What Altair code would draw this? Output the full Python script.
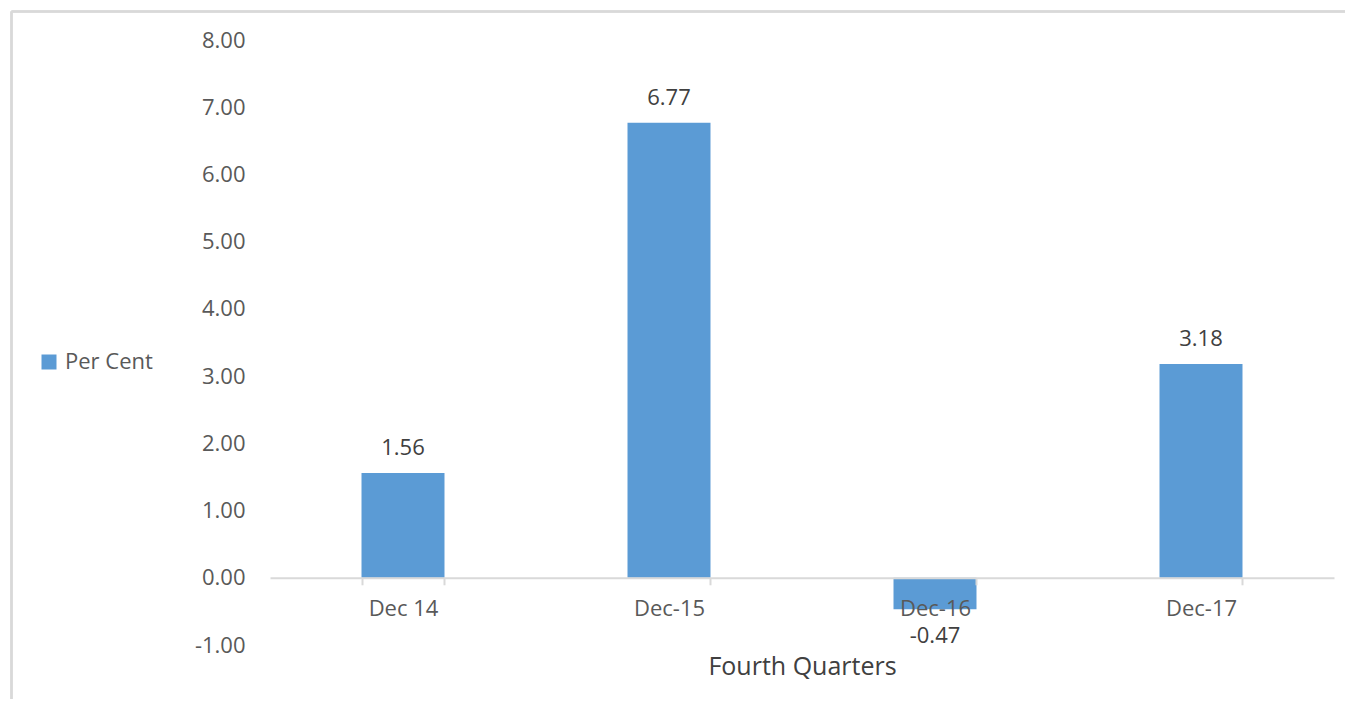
import altair as alt
import pandas as pd

categories = ["Dec 14", "Dec-15", "Dec-16", "Dec-17"]
values = [1.56, 6.77, -0.47, 3.18]
series_name = ["Per Cent"] * 4
y_ticks = [-1, 0, 1, 2, 3, 4, 5, 6, 7, 8]

df = pd.DataFrame({"quarter": categories, "value": values, "series": series_name})

FONT = "Open Sans"
BAR = "#5B9BD5"
GRAY = "#d9d9d9"

W, H = 1064, 605

x_enc = alt.X(
    "quarter:N",
    sort=categories,
    scale=alt.Scale(paddingInner=0.688, paddingOuter=0.344),
    axis=alt.Axis(
        title="Fourth Quarters",
        titleFont=FONT, titleFontSize=25, titleFontWeight="normal", titleColor="#404040",
        titleY=97, titleBaseline="alphabetic",
        labelFont=FONT, labelFontSize=22, labelColor="#595959", labelAngle=0,
        labelPadding=14,
        domainColor=GRAY, domainWidth=2,
        tickColor=GRAY, tickWidth=2, tickSize=7, tickBand="extent",
        offset=-67.2, grid=False, zindex=1,
    ),
)
y_enc = alt.Y(
    "value:Q",
    scale=alt.Scale(domain=[-1, 8], nice=False),
    axis=alt.Axis(
        title=None, values=y_ticks,
        labelExpr="replace(format(datum.value, '.2f'), '\u2212', '-')",
        labelFont=FONT, labelFontSize=22, labelColor="#595959",
        labelPadding=25, ticks=False, tickSize=0, domain=False, grid=False,
    ),
)

bars = alt.Chart(df).mark_bar(color=BAR).encode(
    x=x_enc,
    y=y_enc,
    color=alt.Color(
        "series:N",
        scale=alt.Scale(range=[BAR]),
        legend=alt.Legend(
            title=None, orient="none", legendX=-232, legendY=311, padding=0,
            symbolType="square", symbolSize=225, symbolStrokeWidth=0,
            labelFont=FONT, labelFontSize=22, labelColor="#595959", labelOffset=5,
        ),
    ),
)

base_text = alt.Chart(df).transform_calculate(
    label="replace(format(datum.value, '.2f'), '\u2212', '-')"
)

pos_labels = base_text.transform_filter("datum.value >= 0").mark_text(
    font=FONT, fontSize=22, color="#404040", dy=-25, baseline="middle"
).encode(
    x=alt.X("quarter:N", sort=categories),
    y="value:Q",
    text="label:N",
)
neg_labels = base_text.transform_filter("datum.value < 0").mark_text(
    font=FONT, fontSize=22, color="#404040", dy=27, baseline="middle"
).encode(
    x=alt.X("quarter:N", sort=categories),
    y="value:Q",
    text="label:N",
)

frame_top = alt.Chart(df).mark_rule(color=GRAY, strokeWidth=2).encode(
    x=alt.value(-258.5), x2=alt.value(1200), y=alt.value(-28.5)
)
frame_left = alt.Chart(df).mark_rule(color=GRAY, strokeWidth=2).encode(
    x=alt.value(-258.5), y=alt.value(-28.5), y2=alt.value(800)
)

chart = alt.layer(frame_top, frame_left, bars, pos_labels, neg_labels).properties(
    width=W, height=H,
    autosize=alt.AutoSizeParams(type="none"),
    padding={"left": 262, "top": 32, "right": 11, "bottom": 54},
).configure(background="white").configure_view(stroke="transparent", strokeWidth=0)

chart.save("out.html", embed_options={"renderer": "svg", "actions": False})
